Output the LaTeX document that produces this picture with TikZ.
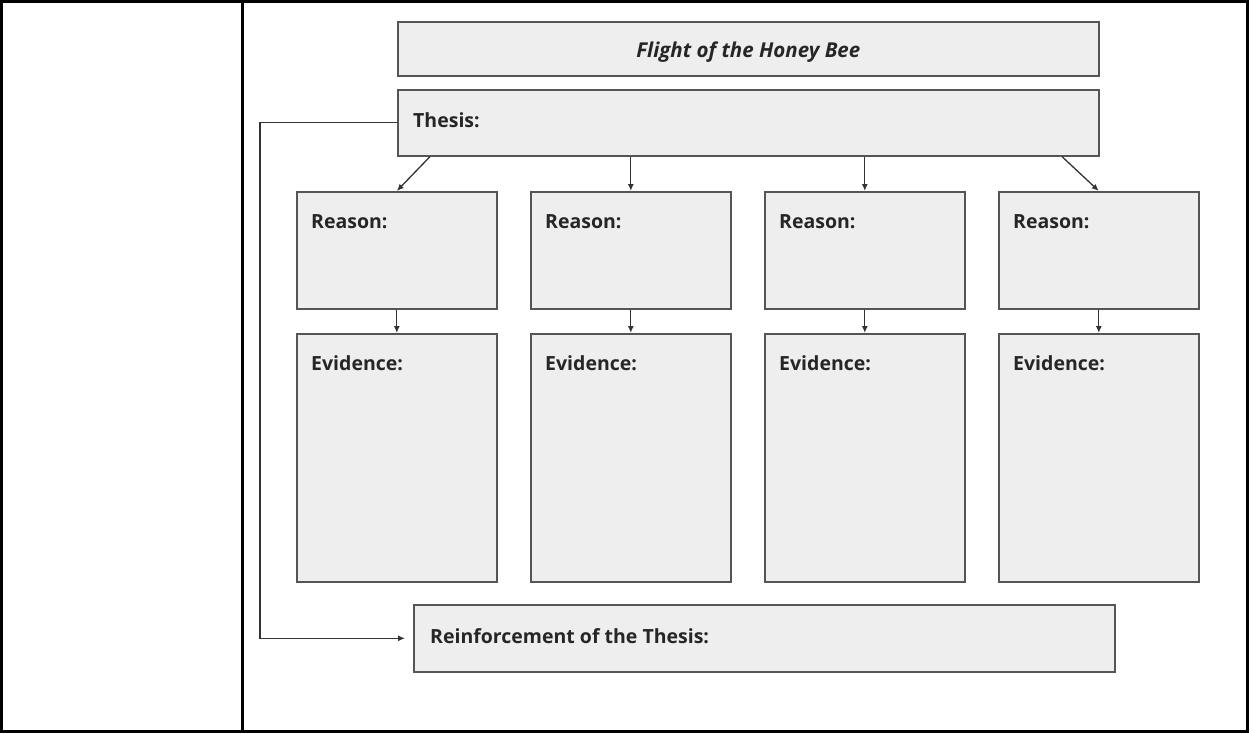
\documentclass[tikz,border=0pt]{standalone}
\usepackage{fontspec}
\setmainfont{Open Sans}
\usetikzlibrary{arrows.meta,calc}
\definecolor{boxfill}{HTML}{EEEEEE}
\definecolor{boxline}{HTML}{555555}
\definecolor{conn}{HTML}{333333}
\tikzset{
  box/.style={draw=boxline,line width=1.6pt,fill=boxfill,inner sep=0pt,anchor=north west},
  lbl/.style={anchor=west,inner sep=0pt,font=\fontsize{19.5}{22}\selectfont\bfseries,text=black!85},
  conn/.style={draw=conn,line width=1.3pt,-{Latex[length=7pt,width=6pt]}},
  frame/.style={draw=black,line width=3pt}
}
\begin{document}
\begin{tikzpicture}[x=1pt,y=-1pt]
\useasboundingbox (0,0) rectangle (1249,733);
% outer table
\draw[frame] (1.5,1.5) rectangle (1247.5,731.5);
\draw[frame] (242,1.5) -- (242,731.5);
% title and thesis
\node[box,minimum width=701pt,minimum height=54pt] (title) at (397,21) {};
\node[font=\fontsize{20.5}{23}\selectfont\bfseries\itshape,text=black!85,inner sep=0pt] (titletext) at ($(title.center)+(0,3)$) {Flight of the Honey Bee};
\node[box,minimum width=701pt,minimum height=66pt] (thesis) at (397,89) {};
\node[lbl] (thesistext) at ($(thesis.north west)+(16,31)$) {Thesis:};
% reasons and evidence
\foreach \i/\x in {1/296,2/530,3/764,4/998}{
  \node[box,minimum width=200pt,minimum height=117pt] (r\i) at (\x,191) {};
  \node[lbl] (rt\i) at ($(r\i.north west)+(15,31)$) {Reason:};
  \node[box,minimum width=200pt,minimum height=248pt] (e\i) at (\x,333) {};
  \node[lbl] (et\i) at ($(e\i.north west)+(15,30)$) {Evidence:};
  \draw[conn] (r\i.south) -- (e\i.north);
}
% reinforcement
\node[box,minimum width=701pt,minimum height=67pt] (reinf) at (413,604) {};
\node[lbl] (reinftext) at ($(reinf.north west)+(17,32)$) {Reinforcement of the Thesis:};
% thesis to reasons
\coordinate (t1) at ($(thesis.south west)+(33,0)$);
\coordinate (t4) at ($(thesis.south west)+(665,0)$);
\draw[conn] (t1) -- (r1.north);
\draw[conn] (thesis.south -| r2.north) -- (r2.north);
\draw[conn] (thesis.south -| r3.north) -- (r3.north);
\draw[conn] (t4) -- (r4.north);
% thesis to reinforcement
\coordinate (bend) at (260,0);
\draw[conn,shorten >=8pt] (thesis.west) -- (thesis.west -| bend) |- (reinf.west);
\end{tikzpicture}
\end{document}
